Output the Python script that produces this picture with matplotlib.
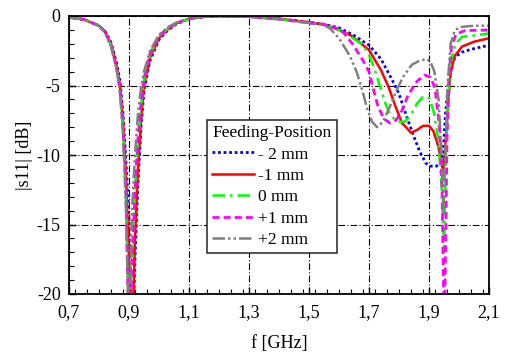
import numpy as np
import matplotlib
matplotlib.use("Agg")
import matplotlib.pyplot as plt
from matplotlib.ticker import MultipleLocator, FuncFormatter

plt.rcParams['font.family'] = ['Liberation Serif', 'DejaVu Serif']
plt.rcParams['axes.unicode_minus'] = False

# --- data (f in GHz, |s11| in dB) ---
f_low = [0.70, 0.75, 0.80, 0.82, 0.84, 0.86, 0.87, 0.88, 0.89, 0.90, 0.91, 0.92,
         0.93, 0.94, 0.95, 0.97, 1.00, 1.03, 1.06, 1.10, 1.15, 1.20, 1.30, 1.40, 1.50]

db_low_m2 = [-0.1, -0.25, -0.7, -1.1, -1.9, -3.5, -4.7, -7.0, -10.5, -14.5, -25, -17.5,
             -12, -8, -5.4, -3.2, -1.7, -1.0, -0.55, -0.2, -0.05, 0, -0.05, -0.2, -0.45]
db_low_m1 = [-0.1, -0.25, -0.7, -1.1, -2.0, -3.7, -5.0, -7.5, -11.5, -17.5, -24, -16,
             -11, -7.5, -5.0, -3.0, -1.6, -0.95, -0.5, -0.2, -0.05, 0, -0.05, -0.2, -0.45]
db_low_0 = [-0.1, -0.25, -0.7, -1.15, -2.1, -3.9, -5.4, -8.2, -13, -23, -17, -12.5,
            -9, -6.5, -4.6, -2.8, -1.5, -0.9, -0.5, -0.2, -0.05, 0, -0.05, -0.22, -0.5]
db_low_p1 = [-0.1, -0.25, -0.7, -1.15, -2.1, -3.9, -5.3, -8.0, -12.5, -24, -18, -12.5,
             -8.8, -6.3, -4.5, -2.7, -1.45, -0.85, -0.5, -0.2, -0.05, 0, -0.05, -0.22, -0.5]
db_low_p2 = [-0.1, -0.25, -0.7, -1.2, -2.2, -4.0, -5.5, -8.5, -14, -23, -14, -10,
             -7, -5.2, -4.0, -2.5, -1.35, -0.8, -0.45, -0.18, -0.05, 0, -0.05, -0.25, -0.5]

f_hi_m2 = [1.55, 1.60, 1.65, 1.70, 1.74, 1.775, 1.80, 1.825, 1.85, 1.87, 1.89, 1.905,
           1.925, 1.94, 1.948, 1.955, 1.965, 1.975, 1.99, 2.01, 2.04, 2.07, 2.10]
db_hi_m2 = [-0.6, -0.85, -1.4, -2.1, -3.1, -4.5, -5.6, -7.2, -8.7, -9.8, -10.6, -10.8,
            -10.8, -10.6, -9.5, -7.0, -4.8, -3.4, -2.9, -2.6, -2.4, -2.25, -2.1]

f_hi_m1 = [1.55, 1.60, 1.64, 1.70, 1.74, 1.765, 1.79, 1.81, 1.84, 1.86, 1.88, 1.90,
           1.915, 1.93, 1.94, 1.947, 1.955, 1.963, 1.972, 1.985, 2.01, 2.05, 2.10]
db_hi_m1 = [-0.6, -1.0, -1.4, -2.45, -3.9, -5.1, -6.6, -7.7, -8.4, -8.2, -7.9, -7.9,
            -8.3, -9.3, -10.3, -11.2, -9.2, -6.5, -4.1, -2.9, -2.2, -1.85, -1.6]

f_hi_0 = [1.55, 1.60, 1.64, 1.68, 1.70, 1.72, 1.737, 1.755, 1.77, 1.795, 1.82, 1.84,
          1.86, 1.88, 1.90, 1.915, 1.93, 1.942, 1.950, 1.957, 1.963, 1.972, 1.988,
          2.01, 2.05, 2.10]
db_hi_0 = [-0.6, -1.0, -1.5, -2.1, -2.8, -3.9, -5.1, -6.3, -7.1, -7.6, -7.6, -7.1,
           -6.3, -5.8, -5.9, -6.8, -8.8, -12.3, -16.6, -10.0, -6.2, -3.4, -2.0,
           -1.5, -1.4, -1.25]

f_hi_p1 = [1.55, 1.60, 1.615, 1.645, 1.68, 1.70, 1.715, 1.73, 1.75, 1.77, 1.79, 1.81,
           1.83, 1.86, 1.885, 1.905, 1.92, 1.935, 1.943, 1.948, 1.951, 1.955, 1.96,
           1.966, 1.975, 1.99, 2.02, 2.10]
db_hi_p1 = [-0.6, -0.95, -1.2, -2.0, -3.2, -4.0, -5.3, -6.5, -7.4, -7.7, -7.5, -6.8,
            -5.7, -4.7, -4.25, -4.4, -5.2, -8.0, -12, -19, -24, -17, -9,
            -4.5, -2.2, -1.3, -1.05, -1.0]

f_hi_p2 = [1.55, 1.57, 1.60, 1.637, 1.66, 1.677, 1.693, 1.71, 1.727, 1.747, 1.77,
           1.793, 1.813, 1.843, 1.87, 1.893, 1.905, 1.918, 1.932, 1.942, 1.948, 1.955,
           1.962, 1.972, 1.985, 2.00, 2.05, 2.10]
db_hi_p2 = [-0.65, -0.9, -1.6, -2.9, -4.1, -5.3, -6.6, -7.6, -8.0, -7.6, -6.5,
            -5.3, -4.4, -3.5, -3.2, -3.1, -3.3, -4.0, -6.0, -10, -14.3, -9.5,
            -5, -2.0, -1.1, -0.8, -0.7, -0.7]

labels = ['- 2 mm', '-1 mm', '0 mm', '+1 mm', '+2 mm']
x_ticks = [0.7, 0.9, 1.1, 1.3, 1.5, 1.7, 1.9, 2.1]
y_ticks = [0, -5, -10, -15, -20]

series = [
    (db_low_m2, f_hi_m2, db_hi_m2, dict(color='#0000ff', lw=2.0, ls=(0, (1, 1)))),
    (db_low_m1, f_hi_m1, db_hi_m1, dict(color='#ff0000', lw=1.8, ls='-')),
    (db_low_0, f_hi_0, db_hi_0, dict(color='#00ff00', lw=1.8, ls=(0, (5, 2, 1, 2)))),
    (db_low_p1, f_hi_p1, db_hi_p1, dict(color='#ff00ff', lw=2.0, ls=(0, (2.5, 1.5)))),
    (db_low_p2, f_hi_p2, db_hi_p2, dict(color='#808080', lw=1.8, ls=(0, (5, 1.2, 1, 1.2, 1, 1.2)))),
]

fig = plt.figure(figsize=(5.05, 3.54), dpi=100)
ax = fig.add_axes([69 / 505, 1 - 294 / 354, 420 / 505, 278 / 354])

for (dbl, fh, dbh, style), lab in zip(series, labels):
    f = np.concatenate([f_low, fh])
    db = np.concatenate([dbl, dbh])
    ax.plot(f, db, label=lab, **style)

ax.set_xlim(0.7, 2.1)
ax.set_ylim(-20, 0)
ax.set_xticks(x_ticks)
ax.set_yticks(y_ticks)
ax.xaxis.set_minor_locator(MultipleLocator(0.04))
ax.yaxis.set_minor_locator(MultipleLocator(1))
ax.xaxis.set_major_formatter(FuncFormatter(lambda v, p: ('%.1f' % v).replace('.', ',')))
ax.yaxis.set_major_formatter(FuncFormatter(lambda v, p: '%d' % round(v)))
ax.tick_params(which='both', direction='in', top=False, right=False, labelsize=13)
ax.tick_params(which='major', length=5, width=1)
ax.tick_params(which='minor', length=3.5, width=0.8)
ax.tick_params(axis='x', pad=7)
ax.tick_params(axis='y', pad=6)
ax.grid(True, which='major', color='black', lw=0.8, ls=(0, (6, 2, 1, 2)))
for s in ax.spines.values():
    s.set_linewidth(1.3)

ax.set_xlabel('f [GHz]', fontsize=13)
ax.set_ylabel('|s11| [dB]', fontsize=13)
ax.xaxis.set_label_coords(0.5, -0.147)
ax.yaxis.set_label_coords(-0.085, 0.5)

leg = ax.legend(title='Feeding-Position', loc='upper left', bbox_to_anchor=(0.329, 0.626),
                fontsize=12.5, title_fontsize=12.5, fancybox=False, framealpha=1,
                edgecolor='#333333', handlelength=2.4, handletextpad=0.25,
                labelspacing=0.3, borderpad=0.3, borderaxespad=0)
leg.get_frame().set_linewidth(1.2)
leg._legend_box.align = 'left'

fig.savefig('out.png', dpi=100)
